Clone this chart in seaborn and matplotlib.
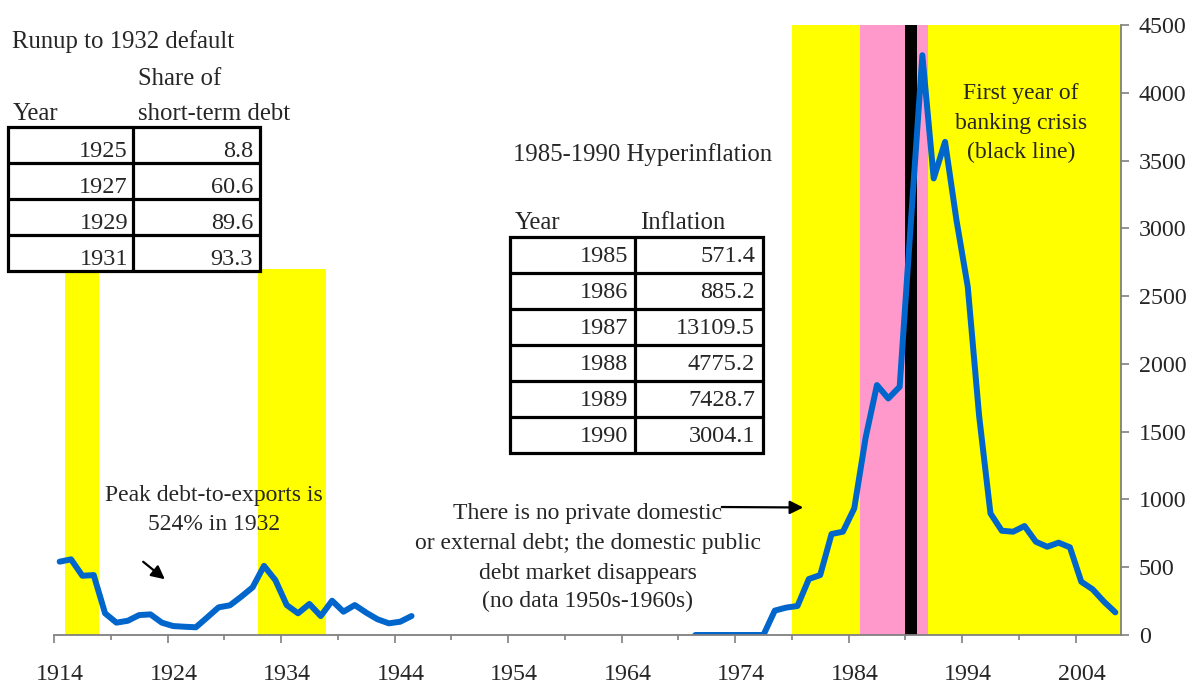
import matplotlib
matplotlib.use("Agg")
import matplotlib.pyplot as plt
from matplotlib.patches import Rectangle
from matplotlib.transforms import ScaledTranslation
import pandas as pd
import seaborn as sns

# ---- series: debt ratio, interwar and modern segments ----
years_interwar = list(range(1914, 1946))
debt_interwar = [541, 558, 437, 442, 160, 91, 105, 147, 152, 91, 66, 61, 57, 130,
                 204, 219, 283, 352, 510, 405, 221, 160, 229, 140, 253, 172, 221,
                 165, 116, 86, 98, 140]

years_modern = list(range(1970, 2008))
debt_modern = [0, 0, 0, 0, 0, 0, 0, 180, 202, 214, 413, 442, 745, 762, 934, 1455,
               1844, 1745, 1831, 3060, 4277, 3368, 3638, 3063, 2569, 1617, 897,
               769, 762, 804, 688, 651, 681, 647, 393, 337, 246, 167]

# ---- shaded episodes ----
default_years_interwar = [1915, 1916, 1917, 1932, 1933, 1934, 1935, 1936, 1937]
default_years_modern = list(range(1979, 2008))
hyperinflation_years = list(range(1985, 1991))
banking_crisis_years = [1989]

# ---- axis ticks ----
x_tick_years = list(range(1914, 2005, 10))
y_tick_values = list(range(0, 4501, 500))

# ---- inset tables ----
runup_years = ["1925", "1927", "1929", "1931"]
runup_short_term_share = ["8.8", "60.6", "89.6", "93.3"]
hyper_years = ["1985", "1986", "1987", "1988", "1989", "1990"]
hyper_inflation = ["571.4", "885.2", "13109.5", "4775.2", "7428.7", "3004.1"]

W, H = 1193, 684
sns.set_style("white")
plt.rcParams["font.family"] = ["Liberation Serif", "DejaVu Serif"]
FS = 17          # notes
FS_TICK = 17.3   # axis tick labels
FS_HEAD = 17.8   # table headers
FS_CELL = 17.5   # table cells

fig = plt.figure(figsize=(W / 100, H / 100), dpi=100)
ax = fig.add_axes([54 / W, 1 - 635 / H, (1121 - 54) / W, (635 - 25) / H])

YMAX = 4500
XMIN, XMAX = 1913.5, 2007.5
INTERWAR_SHADE_TOP = 2700
yellow, pink = "#FFFF00", "#FF99CC"

ax.bar(default_years_interwar, [INTERWAR_SHADE_TOP] * len(default_years_interwar),
       width=1.0, color=yellow, linewidth=0, zorder=1)
ax.bar(default_years_modern, [YMAX] * len(default_years_modern),
       width=1.0, color=yellow, linewidth=0, zorder=1)
ax.bar(hyperinflation_years, [YMAX] * len(hyperinflation_years),
       width=1.0, color=pink, linewidth=0, zorder=1)
ax.bar(banking_crisis_years, [YMAX] * len(banking_crisis_years),
       width=1.0, color="black", linewidth=0, zorder=1)

df = pd.DataFrame({
    "year": years_interwar + years_modern,
    "debt": debt_interwar + debt_modern,
    "segment": ["interwar"] * len(years_interwar) + ["modern"] * len(years_modern),
})
sns.lineplot(data=df, x="year", y="debt", units="segment", estimator=None,
             color="#0066CC", lw=4.3, ax=ax, zorder=3,
             solid_joinstyle="round", solid_capstyle="round", legend=False)

ax.set_xlabel("")
ax.set_ylabel("")

axis_grey = "#808080"
for side in ("left", "top"):
    ax.spines[side].set_visible(False)
for side in ("bottom", "right"):
    ax.spines[side].set_color(axis_grey)
    ax.spines[side].set_linewidth(1.3)
    ax.spines[side].set_zorder(4)

ax.set_xticks([y - 0.5 for y in x_tick_years])
ax.set_xticklabels([str(y) for y in x_tick_years])
ax.set_xticks([y + 4.5 for y in x_tick_years if y + 4.5 < XMAX], minor=True)
ax.tick_params(axis="x", which="major", direction="out", length=5.6, width=1.2,
               color=axis_grey, labelsize=FS_TICK, pad=15, bottom=True)
ax.tick_params(axis="x", which="minor", direction="out", length=3.6, width=1.2,
               color=axis_grey, bottom=True)
shift = ScaledTranslation(6 / 100, 0, fig.dpi_scale_trans)
for lab in ax.get_xticklabels():
    lab.set_transform(lab.get_transform() + shift)

ax.yaxis.tick_right()
ax.set_yticks(y_tick_values)
ax.set_yticklabels([str(v) for v in y_tick_values])
ax.tick_params(axis="y", direction="out", length=5.8, width=1.2, color=axis_grey,
               labelsize=FS_TICK, pad=7, right=True, left=False)
ax.grid(False)
ax.set_xlim(XMIN, XMAX)
ax.set_ylim(0, YMAX)

# ---- overlay in pixel space for tables and notes ----
ov = fig.add_axes([0, 0, 1, 1], zorder=5)
ov.set_xlim(0, W)
ov.set_ylim(H, 0)
ov.axis("off")


def draw_table(left, sep, right, top, row_h, col1, col2, base_off, pad1, pad2):
    n = len(col1)
    bottom = top + n * row_h
    ov.add_patch(Rectangle((left, top), right - left, n * row_h, facecolor="white",
                           edgecolor="black", lw=2.3, zorder=1))
    for i in range(1, n):
        ov.plot([left, right], [top + i * row_h] * 2, color="black", lw=2.3, zorder=2)
    ov.plot([sep, sep], [top, bottom], color="black", lw=2.3, zorder=2)
    for i, (a, b) in enumerate(zip(col1, col2)):
        yb = top + i * row_h + base_off
        ov.text(sep - pad1, yb, a, ha="right", va="baseline", fontsize=FS_CELL, zorder=3)
        ov.text(right - pad2, yb, b, ha="right", va="baseline", fontsize=FS_CELL, zorder=3)


# interwar short-term debt table
ov.add_patch(Rectangle((5, 25), 330, 102, facecolor="white", edgecolor="none", zorder=0))
ov.text(12, 48, "Runup to 1932 default", ha="left", va="baseline", fontsize=FS_HEAD)
ov.text(138, 85, "Share of", ha="left", va="baseline", fontsize=FS_HEAD)
ov.text(13, 120, "Year", ha="left", va="baseline", fontsize=FS_HEAD)
ov.text(138, 120, "short-term debt", ha="left", va="baseline", fontsize=FS_HEAD)
draw_table(8, 133, 260, 127, 36.1, runup_years, runup_short_term_share, 30, 5, 7)

# hyperinflation table
ov.text(513, 161, "1985-1990 Hyperinflation", ha="left", va="baseline", fontsize=FS_HEAD)
ov.text(515, 229, "Year", ha="left", va="baseline", fontsize=FS_HEAD)
ov.text(640, 229, "Inflation", ha="left", va="baseline", fontsize=FS_HEAD)
draw_table(510, 635, 763, 237, 36.0, hyper_years, hyper_inflation, 25.5, 7, 8)

# notes
ov.text(1021, 99, "First year of", ha="center", va="baseline", fontsize=FS)
ov.text(1021, 128.5, "banking crisis", ha="center", va="baseline", fontsize=FS)
ov.text(1021, 158, "(black line)", ha="center", va="baseline", fontsize=FS)

ov.text(214, 501, "Peak debt-to-exports is", ha="center", va="baseline", fontsize=FS)
ov.text(214, 530, "524% in 1932", ha="center", va="baseline", fontsize=FS)
ov.annotate("", xy=(167, 581), xytext=(141, 560),
            arrowprops=dict(arrowstyle="-|>", color="black", lw=1.6, mutation_scale=20))

for txt, yb in [("There is no private domestic", 518.5),
                ("or external debt; the domestic public", 548.5),
                ("debt market disappears", 578.5),
                ("(no data 1950s-1960s)", 607)]:
    ov.text(588, yb, txt, ha="center", va="baseline", fontsize=FS)
ov.annotate("", xy=(806, 507.5), xytext=(719, 507),
            arrowprops=dict(arrowstyle="-|>", color="black", lw=1.6, mutation_scale=20))

fig.savefig("out.png", dpi=100)
